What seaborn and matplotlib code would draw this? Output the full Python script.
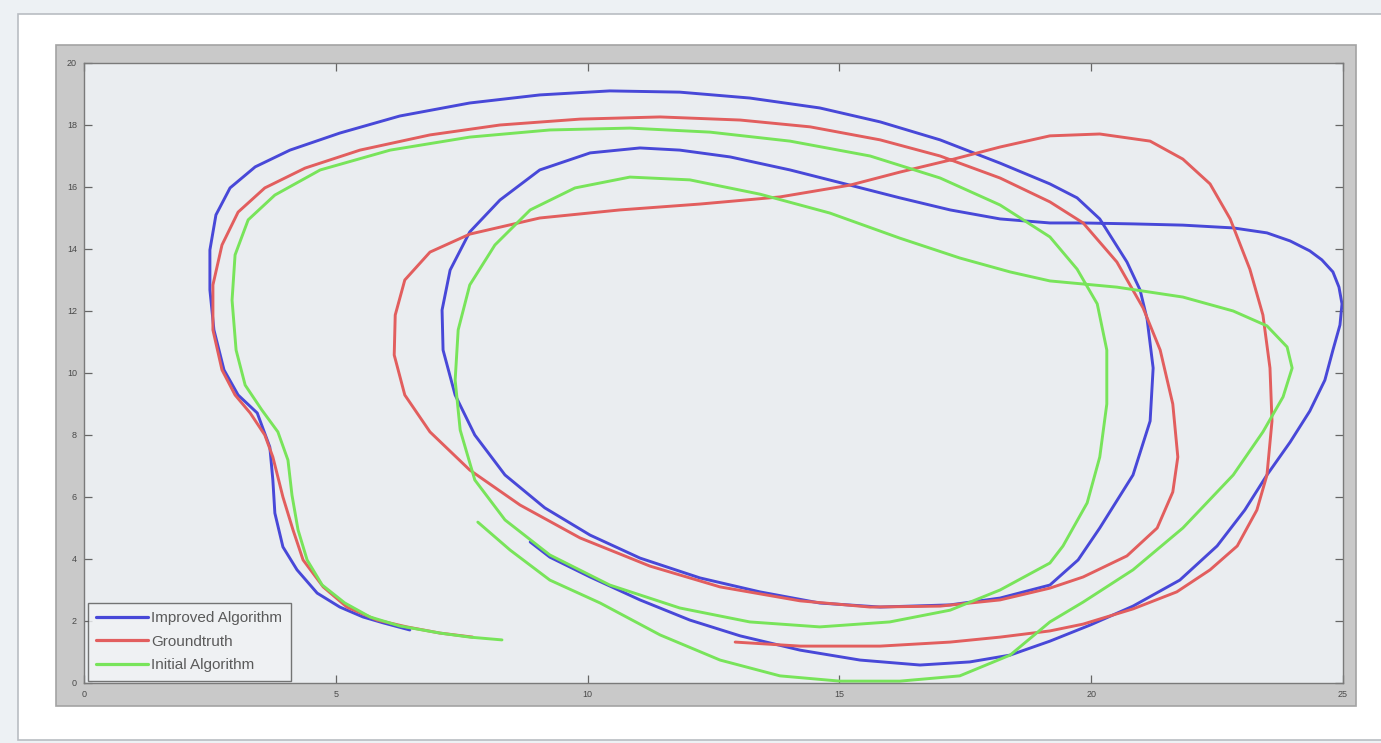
import numpy as np
import pandas as pd
import matplotlib
matplotlib.use("Agg")
import matplotlib.pyplot as plt
from matplotlib.patches import Rectangle
import seaborn as sns

# Trajectory coordinates (x, y) in path order
improved_x = [8.86, 9.25, 10.05, 11.04, 12.03, 13.03, 14.22, 15.41, 16.60, 17.59, 18.39, 19.18, 19.98,
              20.83, 21.76, 22.50, 23.05, 23.49, 23.95, 24.34, 24.64, 24.80, 24.94, 24.98, 24.92, 24.80,
              24.58, 24.34, 23.95, 23.49, 22.82, 21.82, 20.83, 19.84, 19.18, 18.19, 17.20, 16.20, 15.21,
              14.02, 12.83, 11.83, 11.04, 10.05, 9.05, 8.26, 7.66, 7.27, 7.11, 7.13, 7.37, 7.76, 8.36,
              9.15, 10.05, 11.04, 12.23, 13.42, 14.61, 15.81, 17.20, 18.19, 19.18, 19.74, 20.17, 20.83,
              21.17, 21.23, 21.11, 20.97, 20.71, 20.17, 19.72, 19.18, 18.19, 17.00, 15.81, 14.61, 13.22,
              11.83, 10.44, 9.05, 7.66, 6.27, 5.08, 4.09, 3.40, 2.90, 2.62, 2.50, 2.50, 2.58, 2.78, 3.06,
              3.44, 3.69, 3.75, 3.79, 3.95, 4.23, 4.63, 5.08, 5.54, 5.94, 6.47]
improved_y = [4.55, 4.06, 3.42, 2.68, 2.03, 1.52, 1.06, 0.74, 0.58, 0.68, 0.90, 1.35, 1.87,
              2.48, 3.32, 4.42, 5.58, 6.71, 7.77, 8.77, 9.77, 10.74, 11.55, 12.23, 12.77, 13.26,
              13.65, 13.94, 14.26, 14.52, 14.68, 14.77, 14.81, 14.84, 14.84, 14.97, 15.26, 15.65, 16.06,
              16.55, 16.97, 17.19, 17.26, 17.10, 16.55, 15.58, 14.55, 13.32, 12.03, 10.74, 9.29, 8.00, 6.71,
              5.65, 4.77, 4.03, 3.39, 2.94, 2.58, 2.45, 2.52, 2.74, 3.16, 3.97, 5.00, 6.71,
              8.45, 10.16, 11.74, 12.68, 13.58, 14.97, 15.65, 16.10, 16.77, 17.52, 18.10, 18.55, 18.87,
              19.06, 19.10, 18.97, 18.71, 18.29, 17.74, 17.19, 16.65, 15.97, 15.10, 13.97, 12.68, 11.39, 10.10, 9.29,
              8.71, 7.61, 6.55, 5.48, 4.39, 3.65, 2.90, 2.45, 2.13, 1.94, 1.71]

truth_x = [12.93, 14.22, 15.81, 17.20, 18.19, 19.18, 19.84, 20.83, 21.70, 22.36, 22.90, 23.29, 23.49,
           23.59, 23.55, 23.41, 23.15, 22.76, 22.36, 21.82, 21.17, 20.17, 19.18, 18.19, 17.20, 16.20,
           15.21, 13.82, 12.23, 10.64, 9.05, 7.66, 6.87, 6.37, 6.18, 6.16, 6.37, 6.87, 7.66, 8.66, 9.85,
           11.24, 12.63, 14.22, 15.61, 17.00, 18.19, 19.18, 19.84, 20.71, 21.31, 21.62, 21.72, 21.62,
           21.37, 21.03, 20.51, 19.84, 19.18, 18.19, 17.00, 15.81, 14.42, 13.03, 11.44, 9.85, 8.26, 6.87,
           5.48, 4.39, 3.59, 3.06, 2.74, 2.56, 2.56, 2.74, 3.00, 3.30, 3.59, 3.75, 3.95, 4.15, 4.35,
           4.75, 5.22, 5.82, 6.41, 7.07, 7.72]
truth_y = [1.32, 1.19, 1.19, 1.32, 1.48, 1.68, 1.90, 2.39, 2.94, 3.65, 4.42, 5.58, 6.71,
           8.45, 10.16, 11.87, 13.35, 14.97, 16.10, 16.90, 17.48, 17.71, 17.65, 17.29, 16.87, 16.48,
           16.06, 15.68, 15.45, 15.26, 15.00, 14.48, 13.90, 13.00, 11.87, 10.58, 9.29, 8.10, 6.87, 5.74, 4.68,
           3.77, 3.10, 2.65, 2.45, 2.48, 2.68, 3.06, 3.42, 4.10, 5.00, 6.16, 7.29, 9.00,
           10.74, 12.10, 13.58, 14.84, 15.52, 16.29, 17.00, 17.52, 17.94, 18.16, 18.26, 18.19, 18.00, 17.68,
           17.19, 16.61, 15.97, 15.19, 14.13, 12.84, 11.39, 10.10, 9.29, 8.71, 8.00, 7.29, 6.00, 4.94, 3.97,
           3.10, 2.45, 2.03, 1.81, 1.61, 1.48]

initial_x = [8.30, 7.66, 7.07, 6.27, 5.68, 5.18, 4.73, 4.43, 4.25, 4.13, 4.05, 3.85, 3.53, 3.20, 3.02,
             2.94, 3.00, 3.26, 3.79, 4.69, 6.08, 7.66, 9.25, 10.84, 12.43, 14.02, 15.61, 17.00, 18.19,
             19.18, 19.72, 20.12, 20.31, 20.31, 20.17, 19.92, 19.44, 19.18, 18.19, 17.20, 16.00, 14.61,
             13.22, 11.83, 10.44, 9.25, 8.36, 7.76, 7.47, 7.37, 7.43, 7.66, 8.16, 8.86, 9.75, 10.84,
             12.03, 13.42, 14.81, 16.20, 17.39, 18.39, 19.18, 20.51, 21.82, 22.82, 23.49, 23.89, 23.99,
             23.81, 23.41, 22.82, 21.82, 20.83, 19.84, 19.18, 18.39, 17.39, 16.20, 15.01, 13.82, 12.63,
             11.44, 10.25, 9.25, 8.46, 7.82]
initial_y = [1.39, 1.48, 1.61, 1.84, 2.13, 2.58, 3.16, 3.97, 4.94, 6.06, 7.19, 8.10, 8.81, 9.61, 10.74,
             12.35, 13.81, 14.94, 15.74, 16.55, 17.19, 17.61, 17.84, 17.90, 17.77, 17.48, 17.00, 16.29, 15.42,
             14.39, 13.35, 12.23, 10.74, 9.00, 7.29, 5.81, 4.42, 3.87, 3.00, 2.35, 1.97, 1.81,
             1.97, 2.42, 3.16, 4.13, 5.26, 6.55, 8.16, 9.77, 11.39, 12.84, 14.13, 15.26, 15.97, 16.32,
             16.23, 15.77, 15.16, 14.35, 13.71, 13.26, 12.97, 12.77, 12.45, 12.00, 11.52, 10.84, 10.16,
             9.23, 8.10, 6.71, 5.00, 3.65, 2.61, 1.97, 0.90, 0.23, 0.06, 0.06, 0.23, 0.74,
             1.55, 2.58, 3.32, 4.29, 5.19]

series_names = ["Improved Algorithm", "Groundtruth", "Initial Algorithm"]
series_colors = ["#4848d8", "#e25e5e", "#78e45a"]
x_ticks = [0, 5, 10, 15, 20, 25]
y_ticks = [0, 2, 4, 6, 8, 10, 12, 14, 16, 18, 20]

frames = []
for name, xs, ys in zip(series_names,
                        [improved_x, truth_x, initial_x],
                        [improved_y, truth_y, initial_y]):
    frames.append(pd.DataFrame({"x": xs, "y": ys, "series": name,
                                "step": np.arange(len(xs))}))
df = pd.concat(frames, ignore_index=True)

sns.set_theme(style="white")
plt.rcParams["font.family"] = ["Liberation Sans", "DejaVu Sans"]

W, H = 1381, 743
fig = plt.figure(figsize=(W / 100, H / 100), dpi=100)
fig.patch.set_facecolor("#edf1f4")


def px_rect(x0, y0, x1, y1, **kw):
    """Rectangle given in pixel coordinates (origin at top-left)."""
    return Rectangle((x0 / W, 1 - y1 / H), (x1 - x0) / W, (y1 - y0) / H,
                     transform=fig.transFigure, zorder=-10, **kw)


# Document panel and the grey figure window around the axes
fig.patches.append(px_rect(18, 14, 1395, 740, facecolor="white",
                           edgecolor="#b9bdc2", linewidth=1.2))
fig.patches.append(px_rect(56, 45, 1356, 706, facecolor="#c9c9c9",
                           edgecolor="#a3a3a3", linewidth=1.2))

ax = fig.add_axes([84 / W, 1 - 683 / H, (1343 - 84) / W, (683 - 63) / H])
ax.set_zorder(5)
ax.set_facecolor("#eaedf0")

sns.lineplot(data=df, x="x", y="y", hue="series", hue_order=series_names,
             palette=series_colors, sort=False, estimator=None, units="series",
             linewidth=2.1, solid_joinstyle="round", solid_capstyle="round", ax=ax)

ax.set_xlim(0, 25)
ax.set_ylim(0, 20)
ax.set_xticks(x_ticks)
ax.set_yticks(y_ticks)
ax.set_xticklabels([str(t) for t in x_ticks])
ax.set_yticklabels([str(t) for t in y_ticks])
ax.tick_params(direction="in", length=6, width=0.9, color="#666666",
               labelsize=6.5, labelcolor="#4a4a4a", pad=5,
               top=True, right=True, bottom=True, left=True)
for s in ax.spines.values():
    s.set_visible(True)
    s.set_color("#7a7a7a")
    s.set_linewidth(1.0)
ax.set_xlabel("")
ax.set_ylabel("")

leg = ax.legend(loc="lower left", bbox_to_anchor=(0.003, 0.004), borderaxespad=0,
                fontsize=11, frameon=True, fancybox=False, handlelength=3.4,
                handletextpad=0.2, labelspacing=0.62, borderpad=0.55)
leg.get_frame().set_edgecolor("#555555")
leg.get_frame().set_facecolor("#f1f3f5")
leg.get_frame().set_linewidth(1.0)
for t in leg.get_texts():
    t.set_color("#5a5a5a")
for h in leg.get_lines():
    h.set_linewidth(2.3)

fig.savefig("out.png", dpi=100, facecolor=fig.get_facecolor())
